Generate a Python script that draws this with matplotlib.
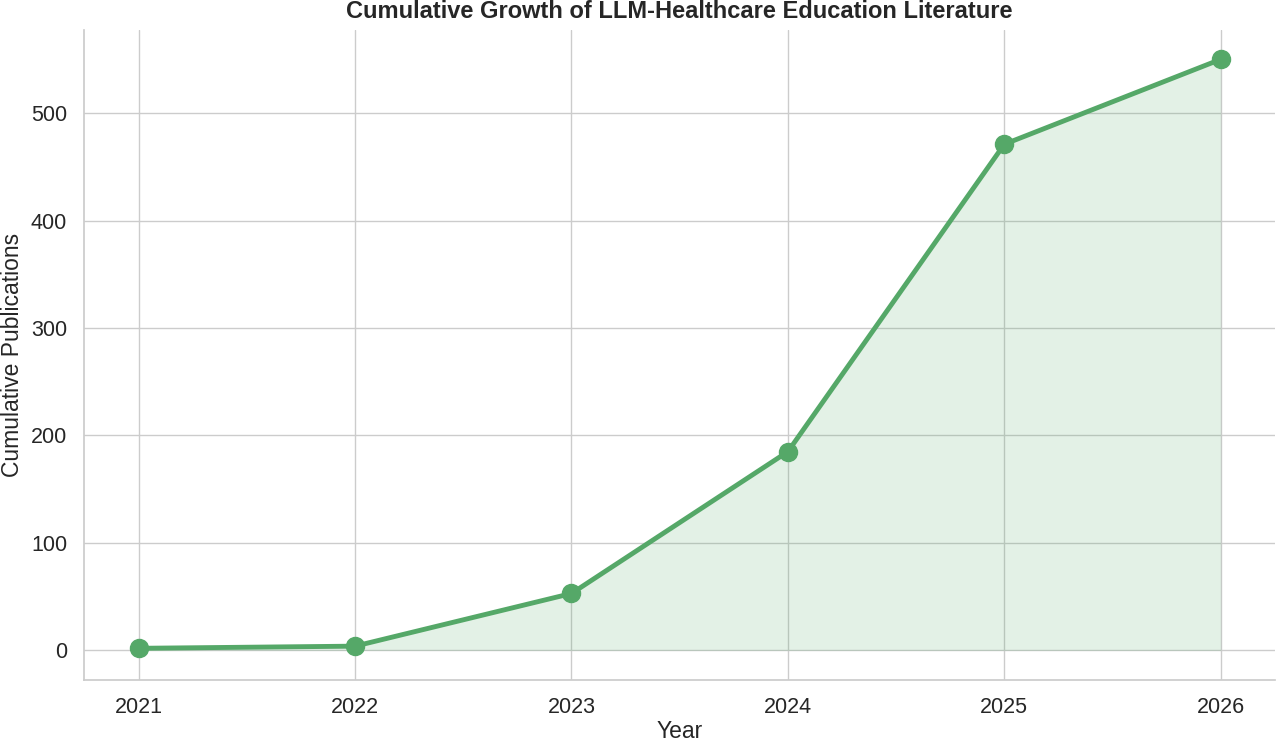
import matplotlib.pyplot as plt
import seaborn as sns

years = [2021, 2022, 2023, 2024, 2025, 2026]
cumulative = [2, 4, 53, 185, 471, 550]

sns.set_theme(style="whitegrid")
plt.rcParams['font.family'] = ['Liberation Sans', 'DejaVu Sans']

green = "#55A868"

fig, ax = plt.subplots(figsize=(12.8, 7.44), dpi=100)
fig.subplots_adjust(left=0.066, right=0.996, top=0.96, bottom=0.086)

ax.fill_between(years, cumulative, color=green, alpha=0.16, linewidth=0)
ax.plot(years, cumulative, color=green, linewidth=3.5, marker='o', markersize=13)

ax.set_title("Cumulative Growth of LLM-Healthcare Education Literature",
             fontsize=17, fontweight='bold', pad=8.5)
ax.set_xlabel("Year", fontsize=16.5, labelpad=1.5)
ax.set_ylabel("Cumulative Publications", fontsize=16.5, labelpad=5)
ax.set_xticks(years)
ax.tick_params(labelsize=15.5)
ax.tick_params(axis='y', pad=6.5)
ax.tick_params(axis='x', pad=6.5)
sns.despine(ax=ax)

plt.savefig("out.png", dpi=100)
